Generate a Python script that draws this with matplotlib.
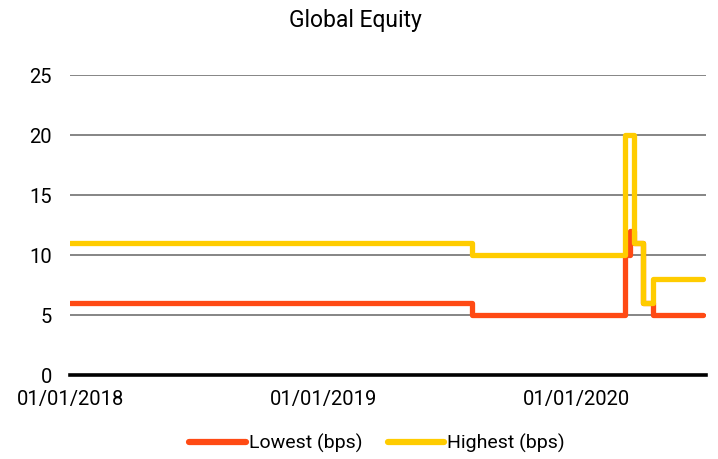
import matplotlib
matplotlib.use("Agg")
import matplotlib.pyplot as plt
import matplotlib.dates as mdates
import pandas as pd

dates = pd.to_datetime([
    "2018-01-01", "2019-08-03", "2020-03-10", "2020-03-17",
    "2020-03-24", "2020-04-05", "2020-04-20", "2020-06-30",
])
lowest = [6, 5, 10, 12, 11, 6, 5, 5]
highest = [11, 10, 20, 20, 11, 6, 8, 8]

tick_dates = pd.to_datetime(["2018-01-01", "2019-01-01", "2020-01-01"])
tick_labels = ["01/01/2018", "01/01/2019", "01/01/2020"]

plt.rcParams['font.family'] = ['Roboto', 'DejaVu Sans']

fig = plt.figure(figsize=(7.18, 4.59), dpi=100)
ax = fig.add_axes([0.0975, 0.183, 0.8858, 0.6536])

ax.plot(dates, lowest, drawstyle='steps-post', color='#FF4A14', lw=3.8,
        solid_capstyle='round', solid_joinstyle='round', label='Lowest (bps)', zorder=3)
ax.plot(dates, highest, drawstyle='steps-post', color='#FFCC00', lw=3.8,
        solid_capstyle='round', solid_joinstyle='round', label='Highest (bps)', zorder=4)

ax.set_ylim(0, 25)
ax.set_yticks([0, 5, 10, 15, 20, 25])
ax.set_xlim(pd.Timestamp("2018-01-01"), pd.Timestamp("2020-07-05"))
ax.set_xticks(tick_dates)
ax.set_xticklabels(tick_labels)

ax.grid(axis='y', color='#858585', lw=1.4)
ax.set_axisbelow(True)
for s in ['top', 'right', 'left']:
    ax.spines[s].set_visible(False)
ax.spines['bottom'].set_color('black')
ax.spines['bottom'].set_linewidth(2.6)
ax.spines['bottom'].set_zorder(5)
ax.tick_params(axis='both', length=0, labelsize=14.5, colors='black')
ax.tick_params(axis='y', pad=13)
ax.tick_params(axis='x', pad=11)

fig.text(0.495, 0.955, "Global Equity", ha='center', va='center', fontsize=16.5)

leg = fig.legend(loc='center', bbox_to_anchor=(0.525, 0.034), ncol=2, frameon=False,
                 fontsize=14, handlelength=2.9, columnspacing=1.3, handletextpad=0.15)
for h in leg.get_lines():
    h.set_linewidth(4.5)

fig.savefig("out.png", dpi=100)
